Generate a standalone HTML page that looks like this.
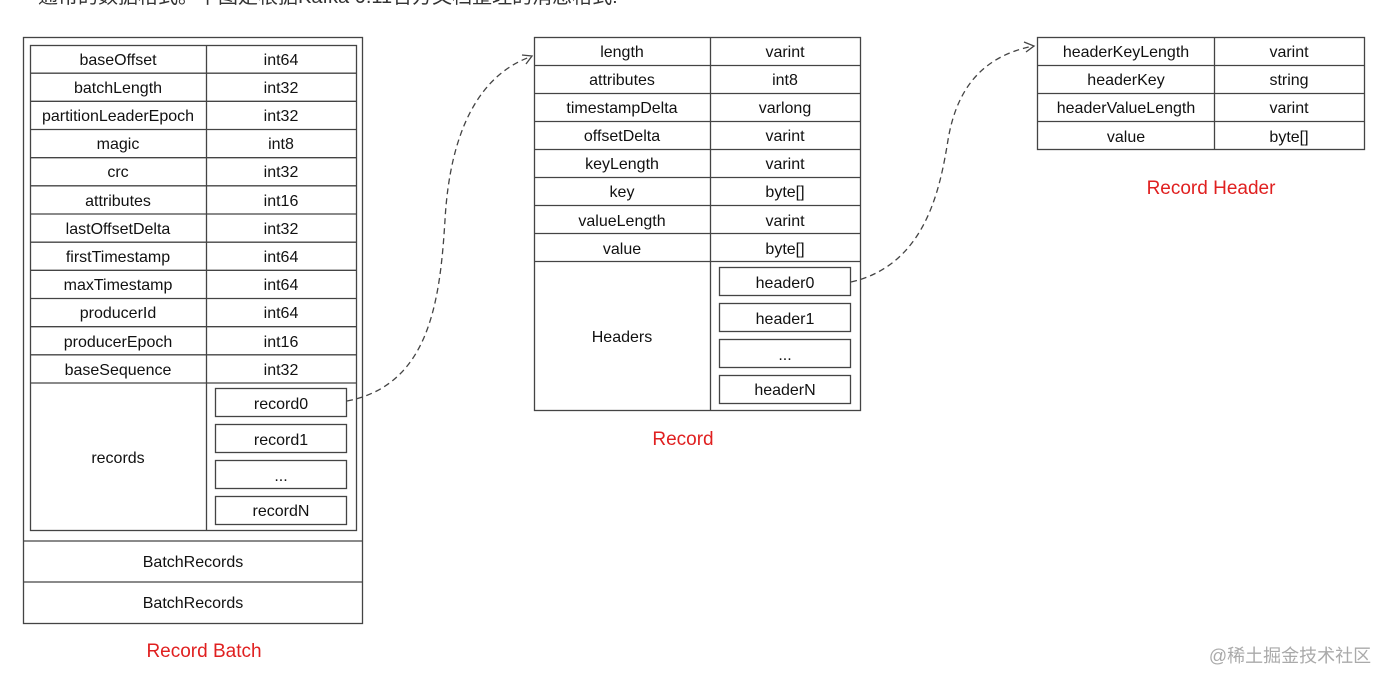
<!DOCTYPE html>
<html><head><meta charset="utf-8"><style>
html,body{margin:0;padding:0;background:#fff;width:1391px;height:686px;overflow:hidden}
svg{display:block}
.t{font-family:"Liberation Sans",Arial,sans-serif;font-size:16px;fill:#111;text-anchor:middle}
.r{font-family:"Liberation Sans","DejaVu Sans",sans-serif;font-size:19px;fill:#e02020;text-anchor:middle}
</style></head><body>
<svg width="1391" height="686" viewBox="0 0 1391 686" xmlns="http://www.w3.org/2000/svg">
<text x="38" y="3" style="font-family:'Liberation Sans','Noto Sans CJK SC',sans-serif;font-size:20px;fill:#333">通常的数据格式。下图是根据Kafka 0.11官方文档整理的消息格式:</text>
<g fill="none" stroke="#444" stroke-width="1.3">
<rect x="23.5" y="37.5" width="339" height="586"/>
<line x1="23.5" y1="541" x2="362.5" y2="541"/>
<line x1="23.5" y1="582" x2="362.5" y2="582"/>
<rect x="30.5" y="45.5" width="326" height="485"/>
<line x1="206.5" y1="45" x2="206.5" y2="530"/>
<line x1="30" y1="73.2" x2="356" y2="73.2"/><line x1="30" y1="101.3" x2="356" y2="101.3"/>
<line x1="30" y1="129.5" x2="356" y2="129.5"/><line x1="30" y1="157.7" x2="356" y2="157.7"/>
<line x1="30" y1="185.8" x2="356" y2="185.8"/><line x1="30" y1="214" x2="356" y2="214"/>
<line x1="30" y1="242.2" x2="356" y2="242.2"/><line x1="30" y1="270.3" x2="356" y2="270.3"/>
<line x1="30" y1="298.5" x2="356" y2="298.5"/><line x1="30" y1="326.7" x2="356" y2="326.7"/>
<line x1="30" y1="354.8" x2="356" y2="354.8"/><line x1="30" y1="383" x2="356" y2="383"/>
<rect x="215.5" y="388.5" width="131" height="28"/>
<rect x="215.5" y="424.5" width="131" height="28"/>
<rect x="215.5" y="460.5" width="131" height="28"/>
<rect x="215.5" y="496.5" width="131" height="28"/>
<rect x="534.5" y="37.5" width="326" height="373"/>
<line x1="710.5" y1="37" x2="710.5" y2="410"/>
<line x1="534" y1="65.5" x2="860" y2="65.5"/><line x1="534" y1="93.5" x2="860" y2="93.5"/>
<line x1="534" y1="121.5" x2="860" y2="121.5"/><line x1="534" y1="149.5" x2="860" y2="149.5"/>
<line x1="534" y1="177.5" x2="860" y2="177.5"/><line x1="534" y1="205.5" x2="860" y2="205.5"/>
<line x1="534" y1="233.5" x2="860" y2="233.5"/><line x1="534" y1="261.5" x2="860" y2="261.5"/>
<rect x="719.5" y="267.5" width="131" height="28"/>
<rect x="719.5" y="303.5" width="131" height="28"/>
<rect x="719.5" y="339.5" width="131" height="28"/>
<rect x="719.5" y="375.5" width="131" height="28"/>
<rect x="1037.5" y="37.5" width="327" height="112"/>
<line x1="1214.5" y1="37" x2="1214.5" y2="149"/>
<line x1="1037" y1="65.5" x2="1364" y2="65.5"/><line x1="1037" y1="93.5" x2="1364" y2="93.5"/>
<line x1="1037" y1="121.5" x2="1364" y2="121.5"/>
</g>
<g fill="none" stroke="#444" stroke-width="1.3" stroke-dasharray="6,4">
<path d="M347,401 C430,385 440,300 445,220 C450,130 480,75 530,57"/>
<path d="M851,282 C925,265 940,190 948,140 C958,80 990,55 1033,46"/>
</g>
<g fill="none" stroke="#444" stroke-width="1.3">
<path d="M522,55 L532,56 L526,64"/>
<path d="M1024,42 L1034,46 L1026,52"/>
</g>
<g class="t">
<text x="118" y="65">baseOffset</text><text x="281" y="65">int64</text>
<text x="118" y="93">batchLength</text><text x="281" y="93">int32</text>
<text x="118" y="121">partitionLeaderEpoch</text><text x="281" y="121">int32</text>
<text x="118" y="149">magic</text><text x="281" y="149">int8</text>
<text x="118" y="177">crc</text><text x="281" y="177">int32</text>
<text x="118" y="206">attributes</text><text x="281" y="206">int16</text>
<text x="118" y="234">lastOffsetDelta</text><text x="281" y="234">int32</text>
<text x="118" y="262">firstTimestamp</text><text x="281" y="262">int64</text>
<text x="118" y="290">maxTimestamp</text><text x="281" y="290">int64</text>
<text x="118" y="318">producerId</text><text x="281" y="318">int64</text>
<text x="118" y="347">producerEpoch</text><text x="281" y="347">int16</text>
<text x="118" y="375">baseSequence</text><text x="281" y="375">int32</text>
<text x="118" y="463">records</text>
<text x="281" y="409">record0</text><text x="281" y="445">record1</text>
<text x="281" y="481">...</text><text x="281" y="516">recordN</text>
<text x="193" y="567">BatchRecords</text><text x="193" y="608">BatchRecords</text>
<text x="622" y="57">length</text><text x="785" y="57">varint</text>
<text x="622" y="85">attributes</text><text x="785" y="85">int8</text>
<text x="622" y="113">timestampDelta</text><text x="785" y="113">varlong</text>
<text x="622" y="141">offsetDelta</text><text x="785" y="141">varint</text>
<text x="622" y="169">keyLength</text><text x="785" y="169">varint</text>
<text x="622" y="197">key</text><text x="785" y="197">byte[]</text>
<text x="622" y="226">valueLength</text><text x="785" y="226">varint</text>
<text x="622" y="254">value</text><text x="785" y="254">byte[]</text>
<text x="622" y="342">Headers</text>
<text x="785" y="288">header0</text><text x="785" y="324">header1</text>
<text x="785" y="360">...</text><text x="785" y="395">headerN</text>
<text x="1126" y="57">headerKeyLength</text><text x="1289" y="57">varint</text>
<text x="1126" y="85">headerKey</text><text x="1289" y="85">string</text>
<text x="1126" y="113">headerValueLength</text><text x="1289" y="113">varint</text>
<text x="1126" y="142">value</text><text x="1289" y="142">byte[]</text>
</g>
<text class="r" x="204" y="657">Record Batch</text>
<text class="r" x="683" y="445">Record</text>
<text class="r" x="1211" y="194">Record Header</text>
<text x="1290" y="662" style="font-family:'Liberation Sans','Noto Sans CJK SC',sans-serif;font-size:18px;fill:#aaa;text-anchor:middle">@稀土掘金技术社区</text>
</svg>
</body></html>
